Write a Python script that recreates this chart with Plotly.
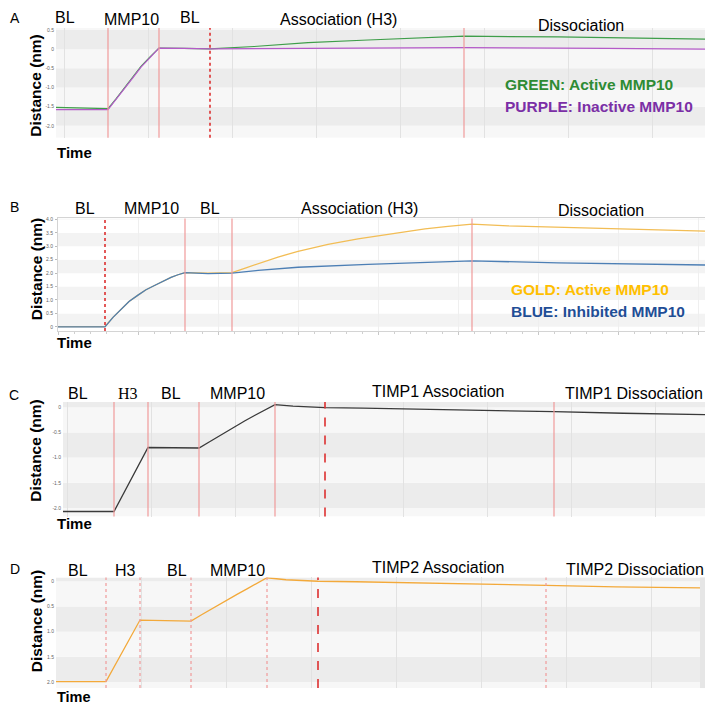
import plotly.graph_objects as go

W, H = 713, 706

# ---------------- data (time in s, distance in nm) ----------------
A_time_green = [0, 52, 60, 69, 77, 85, 94, 103, 128, 154, 198, 252, 312, 360, 408, 502, 602, 664]
A_green = [-1.52, -1.55, -1.3, -1.0, -0.72, -0.45, -0.2, 0.03, 0.02, 0.01, 0.07, 0.17, 0.24, 0.29, 0.34, 0.32, 0.29, 0.26]
A_time_purple = [0, 52, 60, 69, 77, 85, 94, 103, 128, 154, 250, 408, 550, 664]
A_purple = [-1.58, -1.58, -1.31, -1.02, -0.74, -0.47, -0.21, 0.03, 0.02, 0.01, 0.02, 0.04, 0.02, 0.0]
A_solid = [52, 103, 408]
A_dashed = [154]
A_ticks = [0.5, 0, -0.5, -1.0, -1.5, -2.0]
A_ticktext = ["0.5", "0", "-0.5", "-1.0", "-1.5", "-2.0"]

B_time_gold = [0, 47, 55, 63, 71, 80, 88, 97, 105, 113, 120, 127, 150, 174, 188, 203, 220, 240, 270, 300, 333, 367, 390, 414, 450, 533, 600, 654]
B_gold = [0.01, 0.01, 0.35, 0.66, 0.94, 1.18, 1.38, 1.55, 1.71, 1.84, 1.94, 2.02, 2.0, 2.02, 2.2, 2.38, 2.6, 2.81, 3.07, 3.28, 3.47, 3.65, 3.74, 3.83, 3.76, 3.67, 3.61, 3.56]
B_time_blue = [0, 47, 55, 63, 71, 80, 88, 97, 105, 113, 120, 127, 150, 174, 200, 240, 310, 360, 414, 500, 580, 654]
B_blue = [0.0, 0.0, 0.35, 0.66, 0.94, 1.18, 1.38, 1.55, 1.71, 1.84, 1.94, 2.02, 1.98, 2.0, 2.1, 2.22, 2.33, 2.40, 2.46, 2.38, 2.33, 2.30]
B_solid = [127, 174, 414]
B_dashed = [47]
B_ticks = [4.0, 3.5, 3.0, 2.5, 2.0, 1.5, 1.0, 0.5, 0]
B_ticktext = ["4.0", "3.5", "3.0", "2.5", "2.0", "1.5", "1.0", "0.5", "0"]

C_time = [0, 51, 85, 110, 136, 147, 158, 165, 172, 182, 192, 202, 212, 230, 262, 300, 400, 491, 560, 643]
C_vals = [-2.07, -2.07, -0.80, -0.80, -0.81, -0.68, -0.55, -0.46, -0.38, -0.27, -0.16, -0.05, 0.05, 0.02, -0.01, -0.02, -0.05, -0.09, -0.12, -0.15]
C_solid = [51, 85, 136, 212, 491]
C_dashed = [262]
C_ticks = [0, -0.5, -1.0, -1.5, -2.0]
C_ticktext = ["0", "-0.5", "-1.0", "-1.5", "-2.0"]

D_time = [0, 50, 84, 110, 135, 146, 157, 164, 171, 181, 191, 201, 211, 230, 262, 300, 400, 490, 560, 644]
D_vals = [-1.99, -1.99, -0.77, -0.78, -0.79, -0.66, -0.53, -0.45, -0.37, -0.26, -0.15, -0.04, 0.07, 0.03, 0.0, -0.01, -0.04, -0.08, -0.11, -0.13]
D_solid = [50, 84, 135, 211, 490]
D_dashed = [262]
D_ticks = [0, -0.5, -1.0, -1.5, -2.0]
D_ticktext = ["0", "0.5", "1.0", "1.5", "2.0"]

# ---------------- layout helpers ----------------
def xp(px):
    return px / W

def yp(py):
    return 1 - py / H

SANS = "Liberation Sans, Arial, sans-serif"
SERIF = "Liberation Serif, Times New Roman, serif"

# panel boxes in pixels: left, right, top, bottom
boxes = {
    "A": (48, 712, 18, 128),
    "B": (50, 704, 209, 322),
    "C": (55, 698, 393, 508),
    "D": (48, 692, 569, 680),
}
yranges = {"A": [-2.31, 0.555], "B": [-0.16, 4.04], "C": [-2.17, 0.105], "D": [-2.12, 0.077]}
xranges = {"A": [0, 664], "B": [0, 654], "C": [0, 643], "D": [0, 644]}

fig = go.Figure()
names = ["A", "B", "C", "D"]
axis_ids = {"A": "", "B": "2", "C": "3", "D": "4"}

# traces
fig.add_trace(go.Scatter(x=A_time_green, y=A_green, mode="lines", line=dict(color="#3f9e4a", width=1.2),
                         xaxis="x", yaxis="y", showlegend=False))
fig.add_trace(go.Scatter(x=A_time_purple, y=A_purple, mode="lines", line=dict(color="#b45ac8", width=1.2),
                         xaxis="x", yaxis="y", showlegend=False))
fig.add_trace(go.Scatter(x=B_time_gold, y=B_gold, mode="lines", line=dict(color="#f2bd55", width=1.3),
                         xaxis="x2", yaxis="y2", showlegend=False))
fig.add_trace(go.Scatter(x=B_time_blue, y=B_blue, mode="lines", line=dict(color="#4d7fb5", width=1.3),
                         xaxis="x2", yaxis="y2", showlegend=False))
fig.add_trace(go.Scatter(x=C_time, y=C_vals, mode="lines", line=dict(color="#3a3a3a", width=1.3),
                         xaxis="x3", yaxis="y3", showlegend=False))
fig.add_trace(go.Scatter(x=D_time, y=D_vals, mode="lines", line=dict(color="#f3a93a", width=1.3),
                         xaxis="x4", yaxis="y4", showlegend=False))

layout = dict(width=W, height=H, margin=dict(l=0, r=0, t=0, b=0),
              paper_bgcolor="white", plot_bgcolor="white", showlegend=False)

ticks_map = {"A": (A_ticks, A_ticktext), "B": (B_ticks, B_ticktext), "C": (C_ticks, C_ticktext), "D": (D_ticks, D_ticktext)}
grid = {"A": (8, 84), "B": (0, 80), "C": (4, 84), "D": (0, 85)}

shapes = []
for n in names:
    l, r, t, b = boxes[n]
    aid = axis_ids[n]
    xa = dict(domain=[xp(l), xp(r)], range=xranges[n], showticklabels=False, zeroline=False,
              showgrid=True, gridcolor="#e2e2e2", gridwidth=1, tick0=grid[n][0], dtick=grid[n][1],
              anchor="y" + aid, fixedrange=True)
    tv, tt = ticks_map[n]
    ya = dict(domain=[yp(b), yp(t)], range=yranges[n], tickvals=tv, ticktext=tt, showgrid=False,
              zeroline=False, tickfont=dict(size=5, color="#666", family=SANS), anchor="x" + aid,
              ticks="", ticklabelstandoff=1, fixedrange=True)
    if n == "B":
        xa.update(showline=True, mirror=True, linecolor="#d4d4d4", gridcolor="#efefef",
                  ticks="outside", ticklen=3, tickcolor="#c8c8c8",
                  minor=dict(ticks="outside", dtick=16, ticklen=2, tickcolor="#d0d0d0", showgrid=False))
        ya.update(showline=True, mirror=True, linecolor="#d4d4d4", ticks="outside", ticklen=2, tickcolor="#bbb")
    layout["xaxis" + aid] = xa
    layout["yaxis" + aid] = ya

    # alternating background bands between tick values
    step = 0.5
    lo, hi = yranges[n]
    if n == "B":
        dark, light = "#f3f3f3", "#ffffff"
        start = -0.5
    else:
        dark, light = "#ececec", "#f7f7f7"
        start = -2.5
    v = start
    while v < hi:
        y0, y1 = max(v, lo), min(v + step, hi)
        if y1 > y0:
            idx = round((v + step) / step)
            col = dark if idx % 2 == 1 else light
            shapes.append(dict(type="rect", xref="x" + aid + " domain", yref="y" + aid,
                               x0=0, x1=1, y0=y0, y1=y1, fillcolor=col, line=dict(width=0), layer="below"))
        v += step

solid_map = {"A": A_solid, "B": B_solid, "C": C_solid, "D": D_solid}
dashed_map = {"A": A_dashed, "B": B_dashed, "C": C_dashed, "D": D_dashed}
for n in names:
    aid = axis_ids[n]
    for xv in solid_map[n]:
        shapes.append(dict(type="line", xref="x" + aid, yref="y" + aid + " domain", x0=xv, x1=xv, y0=0, y1=1,
                           line=dict(color="#f09a9a", width=1.2, dash="dot" if n == "D" else "solid")))
    for xv in dashed_map[n]:
        shapes.append(dict(type="line", xref="x" + aid, yref="y" + aid + " domain", x0=xv, x1=xv, y0=0, y1=1,
                           line=dict(color="#dd3030", width=1.6, dash="dot" if n in ("A", "B") else "dash")))

# thin grey strip at right edge of C and D
shapes.append(dict(type="rect", xref="paper", yref="paper", x0=xp(698), x1=xp(703), y0=yp(508), y1=yp(393),
                   fillcolor="#e6e6e6", line=dict(width=0)))
shapes.append(dict(type="rect", xref="paper", yref="paper", x0=xp(692), x1=xp(698), y0=yp(680), y1=yp(569),
                   fillcolor="#e6e6e6", line=dict(width=0)))
layout["shapes"] = shapes

ann = []

def text(s, x, y, size=16, color="black", bold=False, family=SANS, xanchor="center", angle=0):
    if bold:
        s = "<b>" + s + "</b>"
    ann.append(dict(text=s, x=xp(x), y=yp(y), xref="paper", yref="paper", showarrow=False,
                    xanchor=xanchor, yanchor="middle", textangle=angle, borderpad=0,
                    font=dict(size=size, color=color, family=family)))

# panel letters
for letter, (x, y) in {"A": (7, 8), "B": (6, 198), "C": (6, 386), "D": (7, 561)}.items():
    text(letter, x, y, size=14)

# phase labels
phase_labels = [
    ("BL", 57, 8), ("MMP10", 123, 10), ("BL", 182, 8), ("Association (H3)", 330, 10), ("Dissociation", 573, 16),
    ("BL", 77, 199), ("MMP10", 143, 199), ("BL", 202, 199), ("Association (H3)", 351, 199), ("Dissociation", 593, 201),
    ("BL", 70, 385), ("BL", 163, 385), ("MMP10", 229, 385), ("TIMP1 Association", 431, 383), ("TIMP1 Dissociation", 626, 385),
    ("BL", 70, 562), ("H3", 117, 562), ("BL", 169, 562), ("MMP10", 229, 562), ("TIMP2 Association", 431, 559), ("TIMP2 Dissociation", 627, 561),
]
for s, x, y in phase_labels:
    text(s, x, y, size=16)
text("H3", 120, 385, size=16, family=SERIF)

# axis titles
for y in (76, 260, 442, 613):
    text("Distance (nm)", 28, y, size=15.5, bold=True, angle=-90)
for y in (143, 333, 515):
    text("Time", 66, y, size=15, bold=True)
text("Time", 66, 689, size=14.5, bold=True)

# legends
text("GREEN: Active MMP10", 496, 75, size=15.5, bold=True, color="#2e8b34", xanchor="left")
text("PURPLE: Inactive MMP10", 496, 97, size=15.5, bold=True, color="#7b2fa6", xanchor="left")
text("GOLD: Active MMP10", 502, 280, size=15.5, bold=True, color="#ffbf00", xanchor="left")
text("BLUE: Inhibited MMP10", 502, 302, size=15.5, bold=True, color="#1f4e96", xanchor="left")

layout["annotations"] = ann
fig.update_layout(**layout)
fig.write_html("out.html")
